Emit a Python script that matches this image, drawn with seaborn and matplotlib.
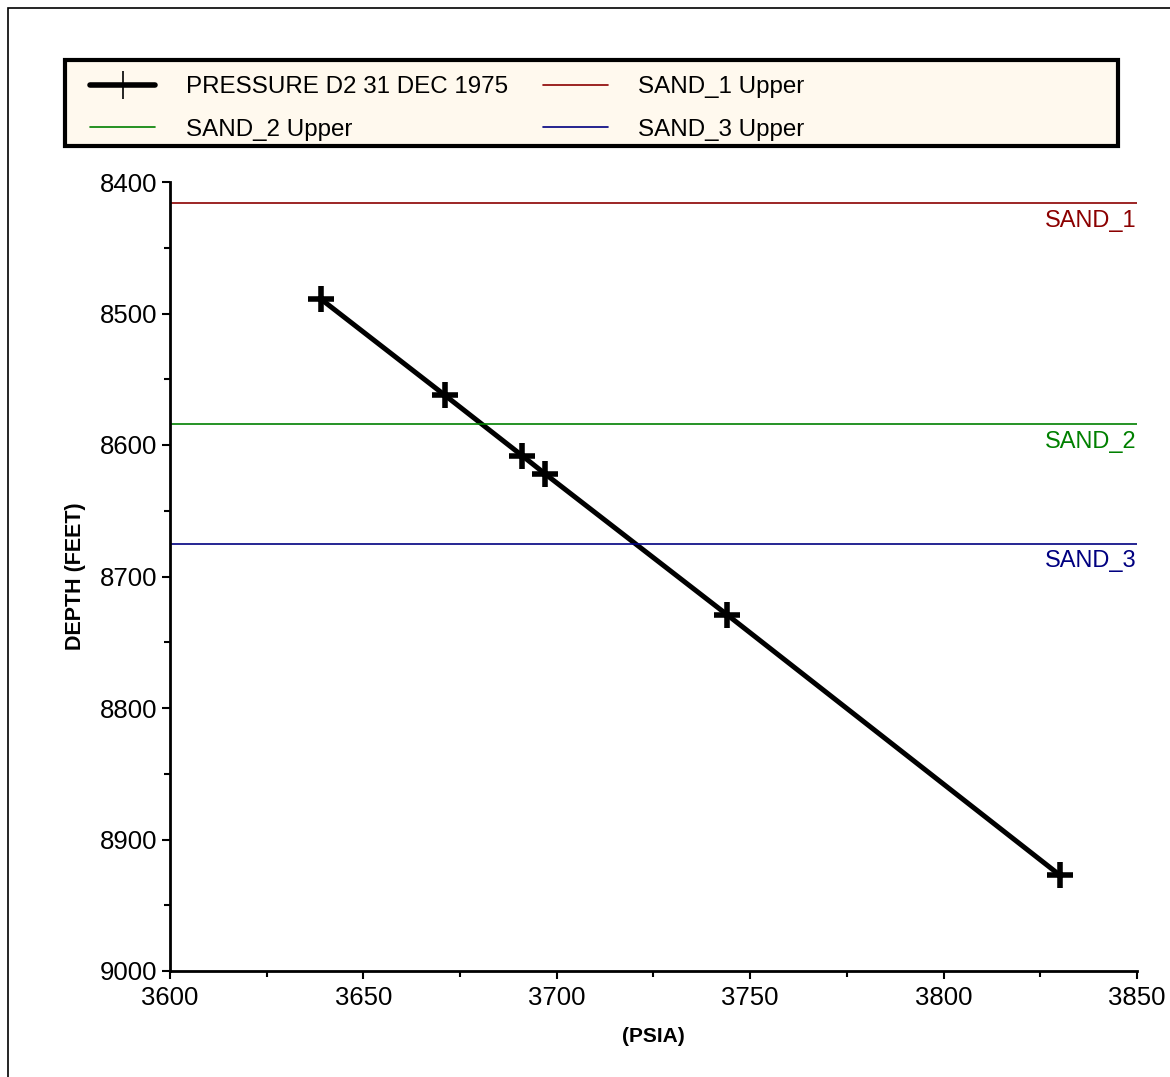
import numpy as np
import pandas as pd
import seaborn as sns
import matplotlib.pyplot as plt
from matplotlib.lines import Line2D
from matplotlib.patches import Rectangle

# Trykkdata
pressure_psia = [3639, 3671, 3691, 3697, 3744, 3830]
depth_feet = [8489, 8562, 8608, 8622, 8729, 8927]

# Sandtopper
sand_names = ["SAND_1", "SAND_2", "SAND_3"]
sand_depths = [8416, 8584, 8675]
sand_colors = ["#8B0000", "#008000", "#000080"]

series_label = "PRESSURE D2 31 DEC 1975"

df = pd.DataFrame({"psia": pressure_psia, "depth": depth_feet})

sns.set_style("ticks")
plt.rcParams['font.family'] = ['Liberation Sans', 'DejaVu Sans']
plt.rcParams['text.color'] = 'black'

fig = plt.figure(figsize=(11.7, 10.77), dpi=100)
ax = fig.add_axes([170/1170, 1 - 971/1077, (1137-170)/1170, (971-182)/1077])

sns.lineplot(data=df, x="psia", y="depth", sort=False, color="black",
             linewidth=3.6, marker="+", markersize=19, markeredgewidth=4,
             markeredgecolor="black", ax=ax)

for name, d, c in zip(sand_names, sand_depths, sand_colors):
    ax.axhline(d, color=c, linewidth=1.2)
    ax.text(3850, d + 5, name, color=c, ha="right", va="top", fontsize=17)

ax.set_xlim(3600, 3850)
ax.set_ylim(9000, 8400)
ax.set_xticks([3600, 3650, 3700, 3750, 3800, 3850])
ax.set_xticks(np.arange(3625, 3850, 50), minor=True)
ax.set_yticks([8400, 8500, 8600, 8700, 8800, 8900, 9000])
ax.set_yticks(np.arange(8450, 9000, 100), minor=True)
ax.tick_params(axis="x", which="major", pad=5)
ax.tick_params(axis="y", which="major", pad=3)
ax.tick_params(axis="both", which="major", labelsize=18.5, length=6, width=1.5,
               color="black", labelcolor="black")
ax.tick_params(axis="both", which="minor", length=4, width=1.5, color="black")
sns.despine(ax=ax)
for s in ["left", "bottom"]:
    ax.spines[s].set_linewidth(2)
    ax.spines[s].set_color("black")

ax.set_xlabel("(PSIA)", fontsize=15, fontweight="bold", labelpad=12, color="black")
ax.set_ylabel("DEPTH (FEET)", fontsize=15.5, fontweight="bold", labelpad=10, color="black")

# Legendeboks
fig.patches.append(Rectangle((65/1170, 1 - 146/1077), (1118-65)/1170, 86/1077,
                             transform=fig.transFigure, facecolor="#FFF9EE",
                             edgecolor="black", linewidth=3, zorder=0))
handles = [
    Line2D([], [], color="black", linewidth=4, marker="|", markersize=20,
           markeredgewidth=1.2),
    Line2D([], [], color=sand_colors[1], linewidth=1.2),
    Line2D([], [], color=sand_colors[0], linewidth=1.2),
    Line2D([], [], color=sand_colors[2], linewidth=1.2),
]
labels = [series_label, "SAND_2 Upper", "SAND_1 Upper", "SAND_3 Upper"]
fig.legend(handles, labels, ncol=2, loc="upper left",
           bbox_to_anchor=(72/1170, 1 - 58/1077), frameon=False, fontsize=17.4,
           handlelength=2.7, handletextpad=1.25, columnspacing=1.45,
           labelspacing=0.85, borderpad=0.25, labelcolor="black")

# Ramme rundt figuren
fig.patches.append(Rectangle((8/1170, -0.1), 1.2, 1.1 - 8/1077,
                             transform=fig.transFigure, facecolor="none",
                             edgecolor="black", linewidth=1.2, zorder=0))

fig.savefig("out.png", dpi=100)
